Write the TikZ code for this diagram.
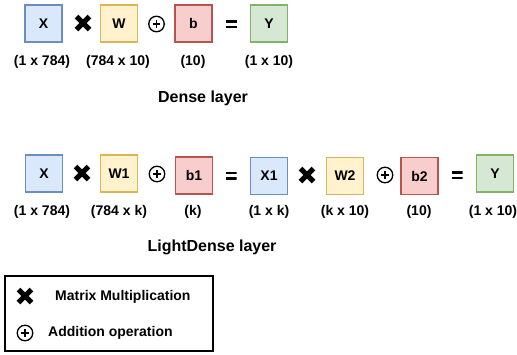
\documentclass[tikz,border=0pt]{standalone}
\usepackage{fontspec}
\setmainfont{Liberation Sans}
\definecolor{bfill}{HTML}{DAE8FC}\definecolor{bline}{HTML}{6C8EBF}
\definecolor{yfill}{HTML}{FFF2CC}\definecolor{yline}{HTML}{D6B656}
\definecolor{rfill}{HTML}{F8CECC}\definecolor{rline}{HTML}{B85450}
\definecolor{gfill}{HTML}{D5E8D4}\definecolor{gline}{HTML}{82B366}
\tikzset{
  mat/.style={draw, line width=1.5pt, minimum size=37pt, inner sep=0pt, font=\bfseries\fontsize{14}{16}\selectfont},
  bluebox/.style={mat, fill=bfill, draw=bline},
  yellowbox/.style={mat, fill=yfill, draw=yline},
  redbox/.style={mat, fill=rfill, draw=rline},
  greenbox/.style={mat, fill=gfill, draw=gline},
  dimlabel/.style={font=\bfseries\fontsize{14}{16}\selectfont, inner sep=0pt},
  title/.style={font=\bfseries\fontsize{16}{18}\selectfont, inner sep=0pt},
  legtext/.style={font=\bfseries\fontsize{14}{16}\selectfont, inner sep=0pt, anchor=west},
  mulop/.style={minimum size=19pt, inner sep=0pt, path picture={
      \draw[line width=5pt] ([shift={(3pt,-3pt)}]path picture bounding box.north west) -- ([shift={(-3pt,3pt)}]path picture bounding box.south east);
      \draw[line width=5pt] ([shift={(3pt,3pt)}]path picture bounding box.south west) -- ([shift={(-3pt,-3pt)}]path picture bounding box.north east);}},
  addop/.style={circle, draw, line width=1.3pt, minimum size=15.5pt, inner sep=0pt, path picture={
      \draw[line width=1.2pt] ([xshift=-3.8pt]path picture bounding box.center) -- ([xshift=3.8pt]path picture bounding box.center);
      \draw[line width=1.2pt] ([yshift=-3.8pt]path picture bounding box.center) -- ([yshift=3.8pt]path picture bounding box.center);}},
  eqop/.style={minimum width=11pt, minimum height=8pt, inner sep=0pt, path picture={
      \fill ([shift={(0pt,4pt)}]path picture bounding box.west) rectangle ([shift={(0pt,1.5pt)}]path picture bounding box.east);
      \fill ([shift={(0pt,-1.5pt)}]path picture bounding box.west) rectangle ([shift={(0pt,-4pt)}]path picture bounding box.east);}},
  legbox/.style={draw, line width=2pt}
}
\begin{document}
\begin{tikzpicture}[x=1pt,y=-1pt]
\useasboundingbox (0,0) rectangle (517,354);
% Dense layer
\node[bluebox] (x) at (43.5,23.5) {X};
\node[mulop] (m1) at (83,23) {};
\node[yellowbox] (w) at (119,23.5) {W};
\node[addop] (a1) at (156.5,24) {};
\node[redbox] (b) at (193.5,23.5) {b};
\node[eqop] (e1) at (231.5,24) {};
\node[greenbox] (y) at (269,23.5) {Y};
\node[dimlabel] (lx) at (42,62) {(1 x 784)};
\node[dimlabel] (lw) at (118,62) {(784 x 10)};
\node[dimlabel] (lb) at (193,62) {(10)};
\node[dimlabel] (ly) at (269,62) {(1 x 10)};
\node[title] (dense) at (203,98) {Dense layer};
% LightDense layer
\node[bluebox] (x2) at (44,173.5) {X};
\node[mulop] (m2) at (82,173) {};
\node[yellowbox] (w1) at (119,173.5) {W1};
\node[addop] (a2) at (157,174) {};
\node[redbox] (b1) at (194,175.5) {b1};
\node[eqop] (e2) at (231,175.5) {};
\node[bluebox] (x1) at (269,176) {X1};
\node[mulop] (m3) at (307,175) {};
\node[yellowbox] (w2) at (345,176) {W2};
\node[addop] (a3) at (385,175) {};
\node[redbox] (b2) at (419.5,176) {b2};
\node[eqop] (e3) at (457,175) {};
\node[greenbox] (y2) at (495,173.5) {Y};
\node[dimlabel] (lx2) at (42,212) {(1 x 784)};
\node[dimlabel] (lw1) at (119,212) {(784 x k)};
\node[dimlabel] (lb1) at (193,212) {(k)};
\node[dimlabel] (lx1) at (269,212) {(1 x k)};
\node[dimlabel] (lw2) at (345,212) {(k x 10)};
\node[dimlabel] (lb2) at (419,212) {(10)};
\node[dimlabel] (ly2) at (493,212) {(1 x 10)};
\node[title] (light) at (212,247) {LightDense layer};
% Legend
\draw[legbox] (5,276) rectangle (213,351);
\node[mulop] (lm) at (25,296) {};
\node[legtext] (lmt) at (55,297) {Matrix Multiplication};
\node[addop] (la) at (25,333) {};
\node[legtext] (lat) at (48,333) {Addition operation};
\end{tikzpicture}
\end{document}
